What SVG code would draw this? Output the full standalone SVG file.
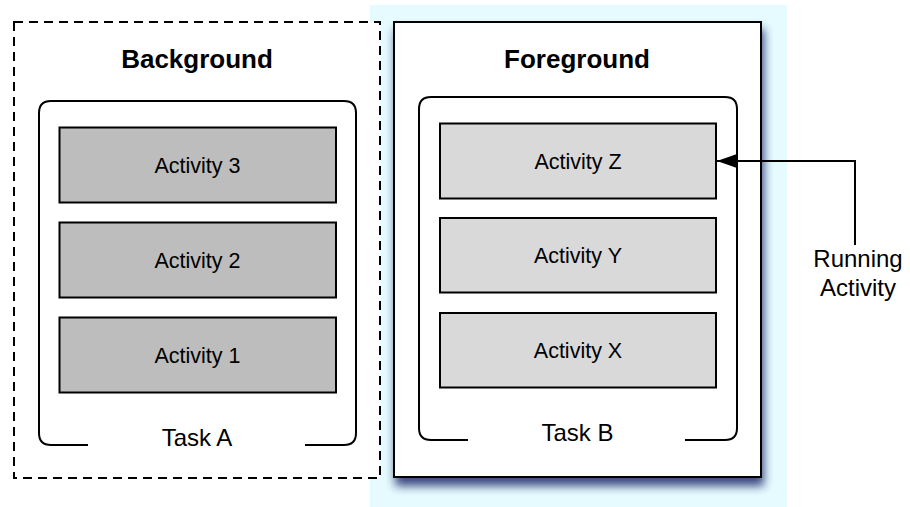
<svg xmlns="http://www.w3.org/2000/svg" width="910" height="507" viewBox="0 0 910 507">
  <style>
    .title { font-family: "Liberation Sans", Arial, Helvetica, sans-serif; font-weight: bold; font-size: 26px; fill: #000; text-anchor: middle; }
    .label { font-family: "Liberation Sans", Arial, Helvetica, sans-serif; font-size: 24px; fill: #000; text-anchor: middle; }
    .act-text { font-family: "Liberation Sans", Arial, Helvetica, sans-serif; font-size: 21.5px; fill: #000; text-anchor: middle; }
    .task { fill: none; stroke: #000; stroke-width: 2; }
    .act-bg { fill: #bdbdbd; stroke: #000; stroke-width: 2; }
    .act-fg { fill: #d9d9d9; stroke: #000; stroke-width: 2; }
    .conn { fill: none; stroke: #000; stroke-width: 2; }
  </style>
  <defs>
    <filter id="soft" x="-20%" y="-20%" width="140%" height="140%">
      <feGaussianBlur stdDeviation="5"/>
    </filter>
    <marker id="head" markerUnits="userSpaceOnUse" markerWidth="22" markerHeight="16" refX="20" refY="7" orient="auto">
      <path d="M0,0 L20,7 L0,14 Z" fill="#000"/>
    </marker>
  </defs>

  <rect width="910" height="507" fill="#fff"/>

  <!-- Light glow panel behind the foreground stack -->
  <rect x="370" y="5" width="417" height="502" fill="#e6fbff"/>

  <!-- Background stack -->
  <g id="background">
    <rect x="14" y="22" width="366" height="456" fill="#fff" stroke="#000" stroke-width="2" stroke-dasharray="9 6"/>
    <text class="title" x="197" y="68">Background</text>
  </g>
  <g id="task-a">
    <path class="task" d="M88,445 H51 Q39,445 39,433 V113 Q39,101 51,101 H344 Q356,101 356,113 V433 Q356,445 344,445 H305"/>
    <text class="label" x="197" y="446">Task A</text>
  </g>
  <g id="activity-3">
    <rect class="act-bg" x="59.5" y="127.5" width="276.5" height="75"/>
    <text class="act-text" x="197.5" y="173">Activity 3</text>
  </g>
  <g id="activity-2">
    <rect class="act-bg" x="59.5" y="222.5" width="276.5" height="75"/>
    <text class="act-text" x="197.5" y="268">Activity 2</text>
  </g>
  <g id="activity-1">
    <rect class="act-bg" x="59.5" y="317.5" width="276.5" height="75"/>
    <text class="act-text" x="197.5" y="363">Activity 1</text>
  </g>

  <!-- Foreground stack with drop shadow -->
  <g id="foreground">
    <rect x="395" y="29" width="369" height="457" fill="#1c2c6a" opacity="0.85" filter="url(#soft)"/>
    <rect x="394" y="22" width="367" height="455" fill="#fff" stroke="#000" stroke-width="2"/>
    <text class="title" x="577" y="68">Foreground</text>
  </g>
  <g id="task-b">
    <path class="task" d="M468,440 H431 Q419,440 419,428 V109 Q419,97 431,97 H725 Q737,97 737,109 V428 Q737,440 725,440 H685"/>
    <text class="label" x="577.5" y="441">Task B</text>
  </g>
  <g id="activity-z">
    <rect class="act-fg" x="440" y="123.5" width="276" height="75"/>
    <text class="act-text" x="578" y="168.5">Activity Z</text>
  </g>
  <g id="activity-y">
    <rect class="act-fg" x="440" y="218" width="276" height="74.5"/>
    <text class="act-text" x="578" y="263">Activity Y</text>
  </g>
  <g id="activity-x">
    <rect class="act-fg" x="440" y="313" width="276" height="74.5"/>
    <text class="act-text" x="578" y="358">Activity X</text>
  </g>

  <g id="running-activity">
    <text class="label" x="858" y="267">Running</text>
    <text class="label" x="858" y="296">Activity</text>
  </g>

  <!-- Connectors -->
  <g id="connectors">
    <path class="conn" d="M855,245 V161 H717" marker-end="url(#head)"/>
  </g>
</svg>
